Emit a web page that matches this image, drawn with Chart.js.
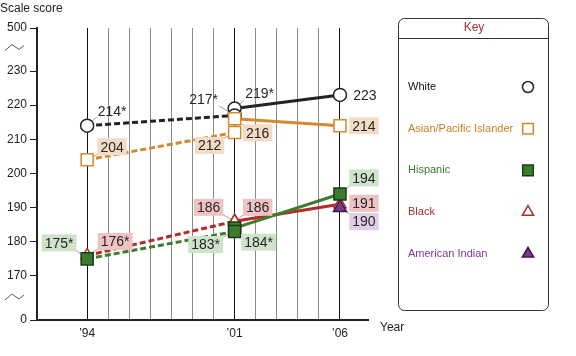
<!DOCTYPE html>
<html><head><meta charset="utf-8">
<script src="https://cdn.jsdelivr.net/npm/chart.js@4.4.1/dist/chart.umd.min.js"></script>
<style>html,body{margin:0;padding:0;background:#fff;}#wrap{width:576px;height:356px;position:relative}</style>
</head><body><div id="wrap"><canvas id="c" width="576" height="356"></canvas></div>
<script>
// ---- data ----
const years = [1994, 2001, 2006];
const gridYears = [1994, 1995, 1996, 1997, 1998, 1999, 2000, 2001, 2002, 2003, 2004, 2005, 2006];
const xTickLabels = ['\u201994', '\u201901', '\u201906'];
const yTickValues = [170, 180, 190, 200, 210, 220, 230];
const yBreakLabels = ['0', '500'];
const groups = ['White', 'Asian/Pacific Islander', 'Hispanic', 'Black', 'American Indian'];
// accommodations not permitted (1994, 2001) and permitted (2001, 2006)
const whiteNotPermitted = [214, 217];
const whitePermitted = [219, 223];
const whiteSignificant = [true, true, true, false];
const asianNotPermitted = [204, 212];
const asianPermitted = [216, 214];
const asianSignificant = [false, false, false, false];
const hispanicNotPermitted = [175, 183];
const hispanicPermitted = [184, 194];
const hispanicSignificant = [true, true, true, false];
const blackNotPermitted = [176, 186];
const blackPermitted = [186, 191];
const blackSignificant = [true, false, false, false];
const amIndianPermitted = [null, 190];
const amIndianSignificant = [false, false];

// ---- styles ----
const Y_MIN = 157.1, Y_MAX = 242.6;
const styles = {
  'White': {color:'#222222', fill:'#ffffff', border:'#222222', text:'#111111', bg:null, shape:'circle', r:6.5},
  'Asian/Pacific Islander': {color:'#d4892e', fill:'#ffffff', border:'#d4892e', text:'#c8802a', bg:'#f3dcc6', shape:'rect', r:8.5},
  'Hispanic': {color:'#3b7d2d', fill:'#3b7d2d', border:'#1c3a15', text:'#3b7a31', bg:'#cfe3cb', shape:'rect', r:8.5},
  'Black': {color:'#b52a2a', fill:'#ffffff', border:'#b52a2a', text:'#a82a2a', bg:'#efc3c3', shape:'triangle', r:7},
  'American Indian': {color:'#7d3a8c', fill:'#7d3a8c', border:'#3a1a40', text:'#7d3a8c', bg:'#e2cde8', shape:'triangle', r:7.5}
};
const drawOrder = {'American Indian':0, 'Hispanic':1, 'Black':2, 'Asian/Pacific Islander':3, 'White':4};

function makeSet(group, xs, ys, dashed) {
  const s = styles[group];
  const data = [];
  xs.forEach((x, i) => { if (ys[i] !== null) data.push({x: x, y: ys[i]}); });
  return {
    label: group, data: data, borderColor: s.color, borderWidth: 3,
    borderDash: dashed ? [6, 3] : [], pointStyle: s.shape, pointRadius: s.r, pointHoverRadius: s.r,
    pointBackgroundColor: s.fill, pointBorderColor: s.border, pointBorderWidth: 1.5,
    fill: false, tension: 0, clip: false, order: drawOrder[group], showLine: data.length > 1
  };
}
const nyears = [years[0], years[1]];
const pyears = [years[1], years[2]];
const datasets = [
  makeSet('American Indian', pyears, amIndianPermitted, false),
  makeSet('Hispanic', nyears, hispanicNotPermitted, true),
  makeSet('Hispanic', pyears, hispanicPermitted, false),
  makeSet('Black', nyears, blackNotPermitted, true),
  makeSet('Black', pyears, blackPermitted, false),
  makeSet('Asian/Pacific Islander', nyears, asianNotPermitted, true),
  makeSet('Asian/Pacific Islander', pyears, asianPermitted, false),
  makeSet('White', nyears, whiteNotPermitted, true),
  makeSet('White', pyears, whitePermitted, false)
];

// value labels: built from the data arrays; offsets are layout only
function labelList(group, notP, perm, sig, offsets) {
  const pts = [];
  const xs = [years[0], years[1], years[1], years[2]];
  const vs = [notP ? notP[0] : null, notP ? notP[1] : null, perm[0], perm[1]];
  xs.forEach((x, i) => {
    if (vs[i] === null || vs[i] === undefined) return;
    pts.push({group, x, v: vs[i], text: String(vs[i]) + (sig[i] ? '*' : ''), off: offsets[i]});
  });
  return pts;
}
const valueLabels = [].concat(
  labelList('White', whiteNotPermitted, whitePermitted, whiteSignificant, [[25,-15],[-31,-16],[25,-15],[25,0]]),
  labelList('Asian/Pacific Islander', asianNotPermitted, asianPermitted, asianSignificant, [[25,-13],[-25,13],[23,14],[24,0]]),
  labelList('Hispanic', hispanicNotPermitted, hispanicPermitted, hispanicSignificant, [[-28,-16],[-29,13],[24,14],[24,-16]]),
  labelList('Black', blackNotPermitted, blackPermitted, blackSignificant, [[28,-14],[-26,-14],[23,-14],[24,-1]]),
  labelList('American Indian', null, amIndianPermitted, [false,false,false,false], [null,null,null,[24,14]])
);

function drawMarker(ctx, shape, x, y, r, fill, stroke, lw) {
  ctx.save();
  ctx.beginPath();
  if (shape === 'circle') { ctx.arc(x, y, r, 0, Math.PI * 2); }
  else if (shape === 'rect') { const s = r * Math.SQRT1_2; ctx.rect(x - s, y - s, 2 * s, 2 * s); }
  else { // triangle
    ctx.moveTo(x, y - r);
    ctx.lineTo(x + r * Math.sin(Math.PI * 2 / 3), y - r * Math.cos(Math.PI * 2 / 3));
    ctx.lineTo(x - r * Math.sin(Math.PI * 2 / 3), y - r * Math.cos(Math.PI * 2 / 3));
    ctx.closePath();
  }
  ctx.fillStyle = fill; ctx.fill();
  ctx.lineWidth = lw; ctx.strokeStyle = stroke; ctx.stroke();
  ctx.restore();
}

const LABEL_FONT = '14px "Liberation Sans", Arial, sans-serif';
function boxFor(ctx, lb, chart) {
  const xs = chart.scales.x, ys = chart.scales.y;
  const px = xs.getPixelForValue(lb.x), py = ys.getPixelForValue(lb.v);
  ctx.font = LABEL_FONT;
  const w = ctx.measureText(lb.text).width + 6, h = 17;
  const cx = px + lb.off[0], cy = py + lb.off[1];
  return {px, py, cx, cy, x0: cx - w / 2, y0: cy - h / 2, w, h};
}

const decor = {
  id: 'decor',
  beforeDatasetsDraw(chart) {
    const ctx = chart.ctx;
    ctx.save();
    ctx.strokeStyle = '#a0a0a0'; ctx.lineWidth = 1;
    valueLabels.forEach(lb => {
      const b = boxFor(ctx, lb, chart);
      if (Math.abs(lb.off[1]) < 4) return;
      const cxr = lb.off[0] > 0 ? b.x0 + 2 : b.x0 + b.w - 2;
      const cyr = lb.off[1] > 0 ? b.y0 + 2 : b.y0 + b.h - 2;
      ctx.beginPath(); ctx.moveTo(b.px, b.py); ctx.lineTo(cxr, cyr); ctx.stroke();
    });
    ctx.restore();
  },
  afterDatasetsDraw(chart) {
    const ctx = chart.ctx;
    ctx.save();
    valueLabels.forEach(lb => {
      const b = boxFor(ctx, lb, chart);
      const s = styles[lb.group];
      if (s.bg) { ctx.fillStyle = s.bg; ctx.fillRect(b.x0, b.y0, b.w, b.h); }
      ctx.fillStyle = '#262626'; ctx.font = LABEL_FONT;
      ctx.textAlign = 'center'; ctx.textBaseline = 'middle';
      ctx.fillText(lb.text, b.cx, b.cy + 1);
    });
    ctx.restore();
  },
  afterDraw(chart) {
    const ctx = chart.ctx;
    ctx.save();
    ctx.fillStyle = '#222'; ctx.font = '12px "Liberation Sans", Arial, sans-serif';
    ctx.textAlign = 'left'; ctx.textBaseline = 'middle';
    ctx.fillText('Scale score', 0, 9);
    ctx.fillText('Year', 380, 328);
    // axis break marks
    const ys = chart.scales.y;
    const bTop = (ys.getPixelForValue(Y_MAX) + ys.getPixelForValue(230)) / 2 - 2;
    const bBot = (ys.getPixelForValue(Y_MIN) + ys.getPixelForValue(170)) / 2 - 1;
    ctx.strokeStyle = '#555'; ctx.lineWidth = 1;
    [bTop, bBot].forEach(y => {
      ctx.beginPath(); ctx.moveTo(5, y + 3); ctx.lineTo(12, y - 3); ctx.lineTo(19, y + 2); ctx.lineTo(24, y - 2); ctx.stroke();
    });
    // legend box
    const L = 398, T = 18, W = 150, H = 292, R = 6;
    ctx.strokeStyle = '#333'; ctx.lineWidth = 1;
    ctx.beginPath();
    ctx.moveTo(L + R + 0.5, T + 0.5); ctx.lineTo(L + W - R + 0.5, T + 0.5);
    ctx.arcTo(L + W + 0.5, T + 0.5, L + W + 0.5, T + R + 0.5, R);
    ctx.lineTo(L + W + 0.5, T + H - R + 0.5);
    ctx.arcTo(L + W + 0.5, T + H + 0.5, L + W - R + 0.5, T + H + 0.5, R);
    ctx.lineTo(L + R + 0.5, T + H + 0.5);
    ctx.arcTo(L + 0.5, T + H + 0.5, L + 0.5, T + H - R + 0.5, R);
    ctx.lineTo(L + 0.5, T + R + 0.5);
    ctx.arcTo(L + 0.5, T + 0.5, L + R + 0.5, T + 0.5, R);
    ctx.closePath(); ctx.stroke();
    ctx.beginPath(); ctx.moveTo(L, T + 20.5); ctx.lineTo(L + W + 1, T + 20.5); ctx.stroke();
    ctx.fillStyle = '#a8323a'; ctx.font = '12px "Liberation Sans", Arial, sans-serif';
    ctx.textAlign = 'center'; ctx.fillText('Key', L + W / 2 + 1, T + 10);
    ctx.font = '11px "Liberation Sans", Arial, sans-serif'; ctx.textAlign = 'left';
    groups.forEach((g, i) => {
      const s = styles[g];
      const y = 87 + i * 41.7;
      ctx.fillStyle = s.text; ctx.fillText(g, 408, y);
      drawMarker(ctx, s.shape, 528, y, s.shape === 'circle' ? 5.5 : s.shape === 'rect' ? 7.5 : 6.5, s.fill, s.border, 1.5);
    });
    ctx.restore();
  }
};

new Chart(document.getElementById('c'), {
  type: 'line',
  data: {datasets},
  plugins: [decor],
  options: {
    responsive: false, animation: false, devicePixelRatio: 1,
    layout: {padding: {top: 28, right: 208, left: 0, bottom: 0}},
    plugins: {legend: {display: false}, tooltip: {enabled: false}},
    scales: {
      x: {
        type: 'linear', min: 1991.62, max: 2007.33,
        afterBuildTicks: (sc) => { sc.ticks = gridYears.map(v => ({value: v})); },
        afterFit: (sc) => { sc.height = 36; },
        ticks: {
          autoSkip: false, maxRotation: 0, padding: 6, color: '#222',
          font: {family: '"Liberation Sans", Arial, sans-serif', size: 12},
          callback: (v) => { const i = years.indexOf(v); return i >= 0 ? xTickLabels[i] : ''; }
        },
        grid: {
          drawTicks: false, lineWidth: 1,
          color: (c) => (c.tick && years.indexOf(c.tick.value) >= 0) ? '#111' : '#8a8a8a'
        },
        border: {color: '#222', width: 2}
      },
      y: {
        type: 'linear', min: Y_MIN, max: Y_MAX,
        afterBuildTicks: (sc) => { sc.ticks = [Y_MIN].concat(yTickValues, [Y_MAX]).map(v => ({value: v})); },
        afterFit: (sc) => { sc.width = 37; },
        ticks: {
          padding: 3, color: '#222',
          font: {family: '"Liberation Sans", Arial, sans-serif', size: 12},
          callback: (v) => v === Y_MIN ? yBreakLabels[0] : v === Y_MAX ? yBreakLabels[1] : String(v)
        },
        grid: {drawOnChartArea: false, drawTicks: true, tickLength: 7, color: '#222', lineWidth: 1},
        border: {color: '#222', width: 2}
      }
    }
  }
});
</script></body></html>
